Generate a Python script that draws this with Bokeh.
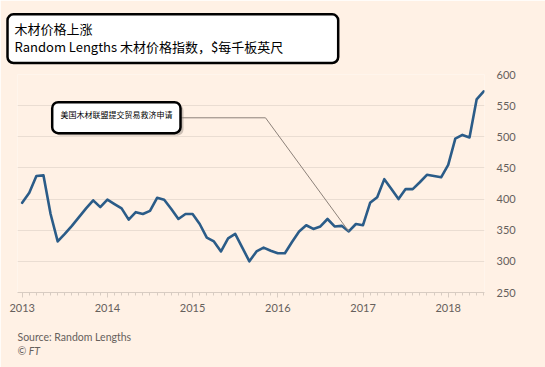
from bokeh.plotting import figure
from bokeh.models import Range1d, FixedTicker, BoxAnnotation, Label, Title
from bokeh.embed import file_html
from bokeh.resources import INLINE

# ---------------- data ----------------
# month index, 0 = Jan 2013 ... 65 = Jun 2018
months = list(range(66))
prices = [394, 410, 437, 438, 376, 332, 344, 357, 371, 385,
          398, 387, 399, 392, 385, 367, 379, 376, 381, 402,
          399, 384, 368, 376, 376, 360, 338, 332, 316, 337,
          344, 322, 300, 316, 322, 317, 313, 313, 331, 348,
          358, 352, 356, 368, 356, 357, 348, 360, 358, 394,
          403, 432, 416, 400, 416, 416, 427, 439, 437, 435,
          455, 497, 503, 499, 560, 573]
year_ticks = [0, 12, 24, 36, 48, 60]
year_labels = ["2013", "2014", "2015", "2016", "2017", "2018"]
y_ticks = [250, 300, 350, 400, 450, 500, 550, 600]
title_text = "木材价格上涨"
subtitle_text = "Random Lengths 木材价格指数，$每千板英尺"
event_index = 46
event_text = "美国木材联盟提交贸易救济申请"
source_text = "Source: Random Lengths"
credit_text = "© FT"

# ---------------- layout ----------------
W, H = 545, 367
FL, FR, FT, FB = 17, 484, 74, 292          # frame edges in canvas px
X0, X1 = -0.66, 65.11
Y0, Y1 = 250, 600
BG = "#FFF1E5"
GRAY = "#66605C"
CJK = "Noto Sans CJK SC"


def X(cx):
    return X0 + (cx - FL) * (X1 - X0) / (FR - FL)


def Y(cy):
    return Y1 - (cy - FT) * (Y1 - Y0) / (FB - FT)


def canvas_box(l, t, r, b, **kw):
    return BoxAnnotation(left=l, right=r, top=t, bottom=b,
                         left_units="canvas", right_units="canvas",
                         top_units="canvas", bottom_units="canvas", **kw)


p = figure(width=W, height=H, output_backend="svg", toolbar_location=None,
           x_range=Range1d(X0, X1), y_range=Range1d(Y0, Y1),
           y_axis_location="right", min_border_left=FL, min_border_right=W - FR,
           min_border_top=FT, min_border_bottom=H - FB)
p.background_fill_color = BG
p.border_fill_color = BG
p.outline_line_color = None

# title block (boxed)
p.title = Title(text=title_text + "\n" + subtitle_text, align="left", offset=-10,
                text_font=CJK, text_font_size="13px", text_font_style="normal",
                text_color="black", text_line_height=0.93,
                background_fill_color="white", border_line_color="black",
                border_line_width=2.5, border_radius=6,
                padding=dict(left=7, right=55, top=5, bottom=7), standoff=23)

# axes
p.xaxis.ticker = FixedTicker(ticks=year_ticks, minor_ticks=months)
p.xaxis.major_label_overrides = {t: l for t, l in zip(year_ticks, year_labels)}
p.xaxis.axis_line_color = "#D8CCC2"
p.xaxis.major_tick_line_color = "#D8CCC2"
p.xaxis.minor_tick_line_color = "#D8CCC2"
p.xaxis.major_tick_in = 0
p.xaxis.major_tick_out = 5
p.xaxis.minor_tick_in = 0
p.xaxis.minor_tick_out = 3
p.xaxis.major_label_standoff = 6
p.xaxis.major_label_text_font = "Lato"
p.xaxis.major_label_text_font_size = "11px"
p.xaxis.major_label_text_color = GRAY

p.yaxis.ticker = FixedTicker(ticks=y_ticks)
p.yaxis.axis_line_color = None
p.yaxis.major_tick_line_color = None
p.yaxis.minor_tick_line_color = None
p.yaxis.major_label_standoff = 6
p.yaxis.major_label_text_font = "Lato"
p.yaxis.major_label_text_font_size = "11px"
p.yaxis.major_label_text_color = GRAY

p.xgrid.grid_line_color = None
p.ygrid.grid_line_color = "#EADDD2"
p.ygrid.grid_line_width = 1

# source / credit below the axis
p.add_layout(Title(text=source_text, align="left", text_font="Lato",
                   text_font_size="10.5px", text_font_style="normal",
                   text_color=GRAY, standoff=0,
                   padding=dict(left=0, right=0, top=14, bottom=0)), "below")
p.add_layout(Title(text=credit_text, align="left", text_font="Lato",
                   text_font_size="10.5px", text_font_style="italic",
                   text_color=GRAY, standoff=0,
                   padding=dict(left=0, right=0, top=0, bottom=0)), "below")

# main series
p.line(months, prices, line_color="#2B5C88", line_width=2.6,
       line_join="round", line_cap="round")

# leader line for annotation
p.line([X(180), X(265), months[event_index]],
       [Y(117.3), Y(117.3), prices[event_index]],
       line_color="#8C8179", line_width=1)

# annotation box
p.add_layout(canvas_box(54, 104, 183, 135, fill_color="#8E847C", fill_alpha=0.45,
                        line_color=None, border_radius=6))
p.add_layout(canvas_box(51.7, 101.7, 180, 132.7, fill_color="white", fill_alpha=1,
                        line_color="black", line_alpha=1, line_width=2.5,
                        border_radius=6))
p.add_layout(Label(x=60, y=113.5, x_units="canvas", y_units="canvas",
                   text=event_text, text_font=CJK,
                   text_font_size="8px", text_color="black",
                   text_align="left", text_baseline="middle"))

open("out.html", "w").write(file_html(p, INLINE))
